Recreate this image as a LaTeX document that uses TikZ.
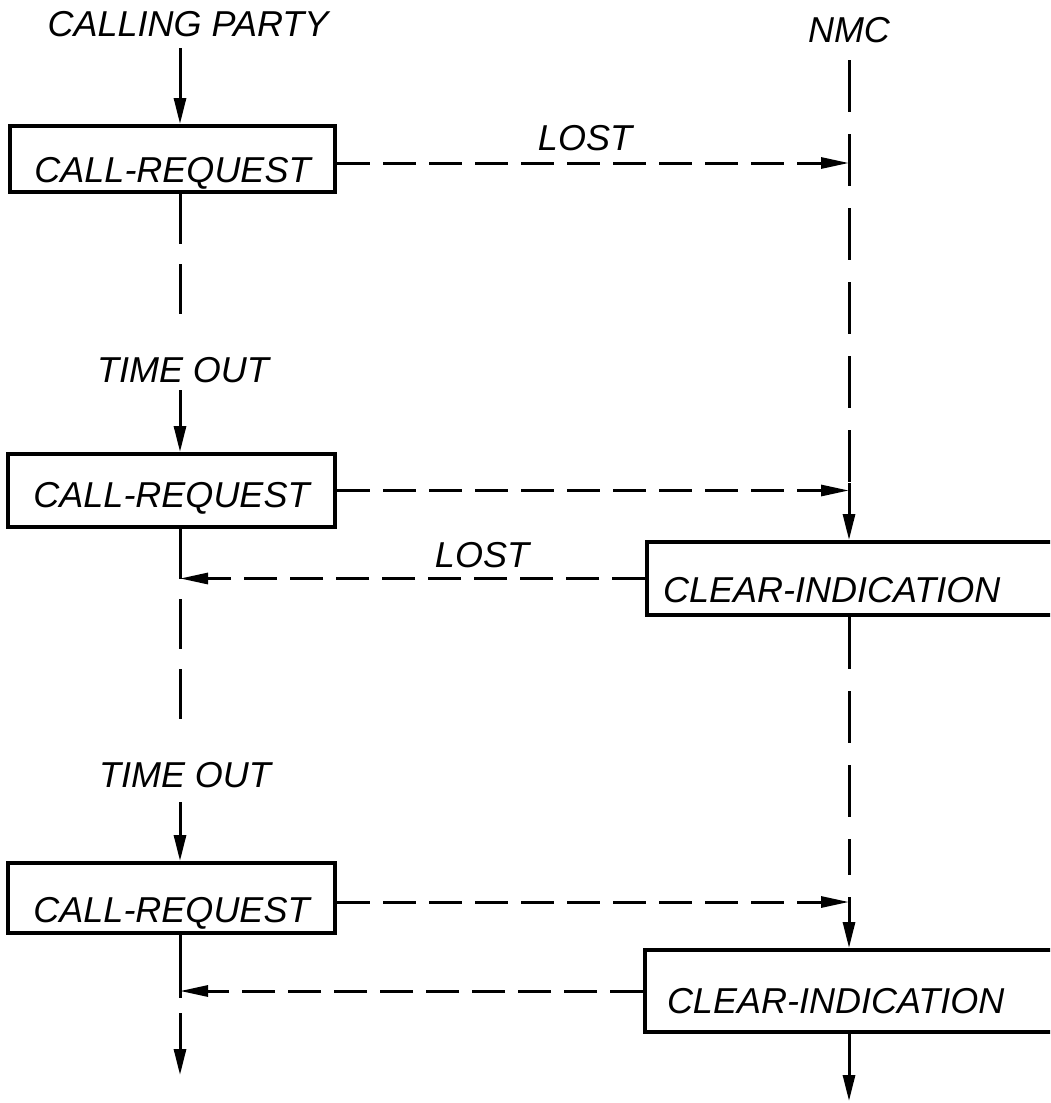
\documentclass[tikz,border=0pt]{standalone}
\usepackage{fontspec}
\setmainfont{Liberation Sans}
\usetikzlibrary{arrows.meta}
\begin{document}
\begin{tikzpicture}[x=0.5pt,y=-0.5pt,
  lbl/.style={font=\fontsize{18}{20}\selectfont\itshape, inner sep=0pt},
  box/.style={draw, line width=2pt, font=\fontsize{18}{20}\selectfont\itshape, inner xsep=0pt, inner ysep=0pt},
  life/.style={line width=1.5pt},
  dsh/.style={life, dash pattern=on 25pt off 10pt},
  ndsh/.style={life, dash pattern=on 26pt off 11pt},
  msg/.style={life, dash pattern=on 16.5pt off 6.5pt, -{Triangle[length=14pt,width=5.5pt]}},
  down/.style={life, -{Triangle[length=13pt,width=6pt]}}]
\clip (0,0) rectangle (1050,1103);
\fill[white] (0,0) rectangle (1050,1103);
% lifeline x positions
\coordinate (L) at (180,0);
\coordinate (N) at (849,0);
% labels and boxes
\node[lbl] (cp) at (188,24) {CALLING PARTY};
\node[lbl] (nmc) at (849,30) {NMC};
\node[box, minimum width=162.5pt, text height=28pt, text depth=5pt] (b1) at (172.5,159) {CALL-REQUEST};
\node[lbl] (lost1) at (585,138) {LOST};
\node[lbl] (to1) at (183,370) {TIME OUT};
\node[box, minimum width=163.5pt, text height=26.5pt, text depth=10pt] (b2) at (171.5,490.5) {CALL-REQUEST};
\node[box, anchor=west, text width=210pt, align=left, inner xsep=8pt, text height=30pt, text depth=6.5pt] (ci1) at (645,578.5) {CLEAR-INDICATION};
\node[lbl] (lost2) at (482,555) {LOST};
\node[lbl] (to2) at (185,775) {TIME OUT};
\node[box, minimum width=163.5pt, text height=29.5pt, text depth=5.5pt] (b3) at (171.5,898) {CALL-REQUEST};
\node[box, anchor=west, text width=210pt, align=left, inner xsep=11pt, text height=31.5pt, text depth=9.5pt] (ci2) at (643,991) {CLEAR-INDICATION};
% free ends of lifeline segments
\coordinate (cptop) at (180,48);
\coordinate (l1end) at (180,323);
\coordinate (to1top) at (180,390);
\coordinate (l2end) at (180,737);
\coordinate (to2top) at (180,802);
\coordinate (l3a) at (180,998);
\coordinate (l3b) at (180,1013);
\coordinate (l3end) at (180,1075);
\coordinate (ntop) at (849,60);
\coordinate (n1) at (849,483);
\coordinate (n2) at (849,875);
\coordinate (n3) at (849,897);
\coordinate (nend) at (849,1101);
% calling party lifeline
\draw[down] (cptop) -- (b1.north -| L);
\draw[dsh] (b1.south -| L) -- (l1end);
\draw[down] (to1top) -- (b2.north -| L);
\draw[dsh] (b2.south -| L) -- (l2end);
\draw[down] (to2top) -- (b3.north -| L);
\draw[life] (b3.south -| L) -- (l3a);
\draw[down] (l3b) -- (l3end);
% NMC lifeline
\draw[ndsh] (ntop) -- (n1);
\draw[down] (n1) -- (ci1.north -| N);
\draw[ndsh] (ci1.south -| N) -- (n2);
\draw[down] (n3) -- (ci2.north -| N);
\draw[down] (ci2.south -| N) -- (nend);
% messages
\draw[msg] ([yshift=-2pt]b1.east) -- ([yshift=-2pt]b1.east -| N);
\draw[msg] (b2.east) -- (b2.east -| N);
\draw[msg] ([yshift=-2pt]b3.east) -- ([yshift=-2pt]b3.east -| N);
\draw[msg] (ci1.west) -- (ci1.west -| L);
\draw[msg] (ci2.west) -- (ci2.west -| L);
\end{tikzpicture}
\end{document}
